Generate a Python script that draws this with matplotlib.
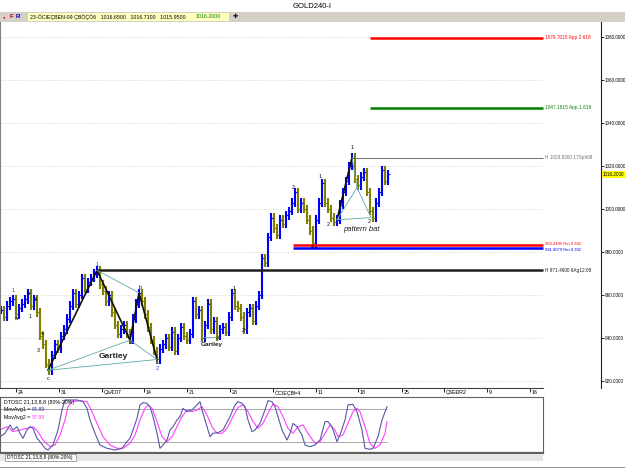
import matplotlib
matplotlib.use("Agg")
import matplotlib.pyplot as plt
from matplotlib.patches import Rectangle
import numpy as np

plt.rcParams['font.family'] = ['Liberation Sans', 'DejaVu Sans']

W, H = 625, 469

# 4h closes, one sample every 3 time units starting at t=1
close = [953, 950, 955, 957, 958, 951, 954, 956, 958, 961,
         955, 958, 952, 941, 937, 928, 925, 932, 937, 935,
         941, 944, 949, 955, 961, 956, 960, 968, 963, 966,
         968, 970, 971.5, 965, 962, 957, 960, 952, 946, 942,
         944, 946, 942, 939, 949, 956, 961, 957, 951, 945,
         939, 934, 930, 935, 937, 940, 936, 943, 934, 940,
         945, 941, 939, 942, 957, 951, 953, 940, 946, 956,
         944, 948, 941, 944, 945, 943, 950, 961, 955, 954,
         950, 944, 952, 954, 948, 955, 960, 977, 975, 987,
         996, 991, 988, 995, 993, 997, 999, 1003, 1008, 1000,
         1003, 1000, 995, 990, 984, 995, 1003, 1012, 1003, 1000,
         996, 994, 995, 1002, 1008, 1013, 1020, 1023.9, 1014, 1011,
         1015, 1017, 1008, 999, 996, 1003, 1008, 1018, 1013, 1016.2]

# DTOSC lines (time, value)
osc1_t = [0, 5, 10, 13, 17, 20, 23, 27, 30, 33, 37, 40, 45, 48, 53, 58, 62, 65, 70, 77,
          83, 87, 90, 95, 100, 107, 115, 122, 127, 130, 133, 137, 140, 143, 147, 150, 153, 157, 160, 163,
          167, 170, 173, 177, 180, 183, 187, 192, 197, 200, 203, 207, 210, 213, 218, 223, 230, 235, 238, 242,
          245, 248, 252, 255, 260, 265, 268, 272, 275, 278, 282, 287, 290, 293, 297, 302, 305, 310, 315, 320,
          325, 328, 332, 337, 340, 345, 348, 353, 357, 362, 365, 370, 373, 378, 382, 387]
osc1_v = [29.7, 35.8, 50.9, 41.8, 47.9, 35.8, 26.7, 41.8, 47.9, 44.8, 26.7, 20.6, 8.5, 5.5, 14.5, 41.8, 78.2, 96.4, 96.4, 96.4,
          93.3, 81.2, 60.0, 35.8, 14.5, 8.5, 5.5, 8.5, 20.6, 26.7, 41.8, 63.0, 87.3, 91.5, 90.3, 84.2, 66.1, 35.8, 8.5, 14.5,
          23.6, 41.8, 47.9, 60.0, 66.1, 81.2, 75.2, 78.2, 87.3, 93.3, 72.1, 47.9, 29.7, 35.8, 37.0, 41.8, 66.1, 87.3, 93.3, 90.3,
          84.2, 60.0, 38.8, 41.8, 53.9, 78.2, 95.2, 93.3, 84.2, 66.1, 41.8, 23.6, 35.8, 53.9, 47.9, 32.7, 14.5, 11.5, 14.5, 23.6,
          57.0, 57.0, 47.9, 20.6, 32.7, 60.0, 87.3, 88.5, 75.2, 41.8, 8.5, 6.7, 8.5, 29.7, 60.0, 84.2]
osc2_t = [0, 7, 13, 20, 27, 33, 38, 43, 50, 55, 60, 65, 68, 72, 80, 87, 92, 97, 103, 110,
          117, 123, 130, 135, 140, 145, 148, 152, 157, 162, 167, 172, 177, 182, 187, 192, 197, 202, 207, 212,
          217, 222, 227, 233, 238, 243, 248, 253, 258, 263, 268, 273, 278, 283, 288, 293, 298, 303, 308, 315,
          320, 325, 330, 335, 338, 343, 348, 353, 357, 360, 365, 370, 375, 380, 385, 387]
osc2_v = [41.8, 47.9, 38.8, 41.8, 44.8, 47.9, 38.8, 23.6, 11.5, 14.5, 32.7, 60.0, 84.2, 93.3, 95.2, 93.3, 75.2, 53.9, 29.7, 14.5,
          8.5, 8.5, 17.6, 32.7, 60.0, 81.2, 87.3, 81.2, 57.0, 29.7, 20.6, 29.7, 47.9, 66.1, 78.2, 75.2, 78.2, 84.2, 69.1, 47.9,
          35.8, 35.8, 44.8, 66.1, 83.0, 87.3, 75.2, 57.0, 44.8, 53.9, 72.1, 89.1, 84.2, 66.1, 44.8, 35.8, 47.9, 50.9, 35.8, 17.6,
          20.6, 35.8, 50.9, 41.8, 29.7, 32.7, 53.9, 75.2, 81.2, 75.2, 47.9, 17.6, 8.5, 14.5, 35.8, 57.0]

price_ticks = [920, 940, 960, 980, 1000, 1020, 1040, 1060, 1080]
last_price = 1016.2

date_ticks = [16, 59, 102, 144, 187, 230, 273, 316, 358, 402, 444, 487, 530]
date_labels = ['24', '31', 'ÇàÆ07', '14', '21', '28', 'ÖCIEÇBÞ4', '11', '18', '25', 'ÇßEÐR2', '9', '16']

# horizontal levels: price, start time, label, colour, width
lvl_price = [1079.7015, 1047.1815, 1023.92, 983.2495, 981.8079, 971.46]
lvl_start = [370, 370, 352, 293, 293, 97]
lvl_text = ['1079.7015 App 2.618', '1047.1815 App 1.618', 'H 1023.9200 17Sph08',
            '983.2495 Ret 0.382', '981.8079 Ret 0.382', 'H 971.4600 6Ag12:08']
lvl_color = ['#ff0000', '#008000', '#707070', '#ff0000', '#0000ff', '#202020']
lvl_lw = [1.8, 1.8, 0.7, 1.8, 1.8, 1.8]

# wave labels (time, price, text, colour)
wave_t = [13, 16, 28, 35, 30, 42, 38, 48, 48, 97, 140, 130, 157, 157, 208, 217, 234, 243, 293, 320, 328, 312, 352, 369]
wave_p = [962, 949.3, 960.5, 958, 949.8, 942.3, 934.4, 925.8, 921.3, 974.4, 963.7, 937.7, 928.4, 925.6, 956.3, 939.5,
          962.8, 943.3, 1010.2, 1014.9, 992.6, 981.9, 1028.8, 994.4]
wave_s = ['1', 'a', 'b', '3', '1', '4', '3', '2', 'c', '1', 'b', 'a', 'c', '2', '1', '2', '1', '2', '2', '1', '2', '4', '1', '2']
wave_c = ['#008000', 'k', 'k', 'k', 'k', 'k', 'k', '#008000', 'k', '#3030ff', 'k', 'k', '#3030ff', '#3030ff',
          'k', 'k', 'k', 'k', 'k', 'k', 'k', 'k', 'k', 'k']

# gartley X A B C D and bat points
g_t = [48, 97, 130, 139, 157]
g_p = [925, 971.5, 939, 961, 930]
bat_t = [337, 352, 357, 371]
bat_p = [995, 1023.9, 1010, 996]


def fr(x0, y0, x1, y1):
    return [x0 / W, 1 - y1 / H, (x1 - x0) / W, (y1 - y0) / H]


def prect(fig, x0, y0, x1, y1, fc, ec='none', lw=0):
    fig.add_artist(Rectangle((x0 / W, 1 - y1 / H), (x1 - x0) / W, (y1 - y0) / H,
                             transform=fig.transFigure, fc=fc, ec=ec, lw=lw))


fig = plt.figure(figsize=(W / 100, H / 100), dpi=100)
fig.patch.set_facecolor('white')

fig.text(312 / W, 1 - 6 / H, 'GOLD240-I', ha='center', va='center', fontsize=5.5)

# toolbar
prect(fig, 0, 12, 625, 22, '#d4d0c8')
prect(fig, 28, 13, 229, 21, '#ffffc0')
fig.text(3 / W, 1 - 17 / H, '\u25cf', color='red', fontsize=3, va='center')
fig.text(10 / W, 1 - 17 / H, 'F', color='#c00000', fontsize=4.5, va='center', weight='bold')
fig.text(16 / W, 1 - 17 / H, 'R', color='#0000c0', fontsize=4.5, va='center', weight='bold')
fig.text(30 / W, 1 - 17 / H, '23-ÖCIEÇBEN-09 ÇBÖÇÖ6   1016.6500   1016.7100   1015.9500',
         fontsize=3.8, va='center')
fig.text(196 / W, 1 - 17 / H, '1016.2000', color='#008000', fontsize=3.8, va='center')
fig.text(233 / W, 1 - 17 / H, '\u271a', fontsize=4.5, va='center')

# main price panel
ax = fig.add_axes(fr(0, 22, 601, 388))
ax.set_xlim(0, 601)
ax.set_ylim(916.74, 1087.0)
ax.set_facecolor('white')
for s in ['top', 'bottom']:
    ax.spines[s].set_visible(False)
ax.spines['left'].set_color('#808080')
ax.spines['right'].set_color('#202020')
ax.spines['right'].set_linewidth(0.8)
ax.set_xticks([])
ax.yaxis.tick_right()
ax.set_yticks(price_ticks)
ax.set_yticklabels(['%.4f' % p for p in price_ticks])
ax.tick_params(axis='y', labelsize=3.3, length=2, pad=0.6, width=0.6)

ax.hlines(price_ticks, 0, 542, colors='#c8c8b0', linestyles=(0, (1, 2)), lw=0.6)

t = np.arange(len(close)) * 3 + 1
c = np.array(close)
o = np.r_[c[0], c[:-1]]
lo = np.minimum(o, c) - 2.0
hi = np.maximum(o, c) + 2.0
cols = np.where(c >= o, '#0000ff', '#808000')
ax.vlines(t, lo, hi, colors=cols, lw=1.5)
ax.hlines(c, t, t + 1.5, colors=cols, lw=0.8)
ax.hlines(o, t - 1.5, t, colors=cols, lw=0.8)

# label nudges so the two close retracement labels stay legible
lbl_dy = [0, 0, 0, 0.7, -0.7, 0]
for p, s0, txt, col, lw, dy in zip(lvl_price, lvl_start, lvl_text, lvl_color, lvl_lw, lbl_dy):
    ax.hlines(p, s0, 543, colors=col, lw=lw)
    fs = 3.0 if dy else 3.4
    ax.text(545, p + dy, txt, color=col, fontsize=fs, va='center', ha='left')

# gartley
ax.plot(g_t, g_p, color='#101010', lw=1.2)
tl = '#60a8a8'
ax.plot([g_t[0], g_t[2], g_t[4], g_t[0]], [g_p[0], g_p[2], g_p[4], g_p[0]], color=tl, lw=0.6)
ax.plot([g_t[1], g_t[3]], [g_p[1], g_p[3]], color=tl, lw=0.6)
ax.text(113, 931.5, 'Gartley', fontsize=6, weight='bold', ha='center', va='center', color='#202020')
ax.plot([202, 217], [940.5, 940.5], color=tl, lw=0.6)
ax.text(212, 937.2, 'Gartley', fontsize=4.6, weight='bold', ha='center', va='center', color='#202020')

# bat
ax.plot(bat_t[:2], bat_p[:2], color='#101010', lw=1.2)
ax.plot([bat_t[0], bat_t[2], bat_t[3], bat_t[0]], [bat_p[0], bat_p[2], bat_p[3], bat_p[0]], color=tl, lw=0.6)
ax.plot([bat_t[1], bat_t[2]], [bat_p[1], bat_p[2]], color=tl, lw=0.6)
ax.text(361, 990.5, 'pattern bat', fontsize=5.5, style='italic', ha='center', va='center', color='#202020')

for wt, wp, ws, wc in zip(wave_t, wave_p, wave_s, wave_c):
    ax.text(wt, wp, ws, color=wc, fontsize=3.8, ha='center', va='center')

ax.annotate('%.4f' % last_price, xy=(1.003, last_price), xycoords=('axes fraction', 'data'),
            fontsize=3.3, va='center', ha='left', annotation_clip=False,
            bbox=dict(boxstyle='square,pad=0.2', fc='#ffff00', ec='none'))

# date strip
axd = fig.add_axes(fr(0, 388, 543, 397))
axd.set_xlim(0, 543)
axd.set_ylim(0, 1)
for s in ['bottom', 'left', 'right']:
    axd.spines[s].set_visible(False)
axd.spines['top'].set_color('#404040')
axd.spines['top'].set_linewidth(0.8)
axd.set_yticks([])
axd.set_xticks(date_ticks)
axd.tick_params(axis='x', top=True, bottom=False, direction='in', length=3, width=0.6,
                labeltop=False, labelbottom=False)
for x, lab in zip(date_ticks, date_labels):
    axd.text(x + 1.5, 0.45, lab, fontsize=3.8, va='center', ha='left')

# oscillator panel
axo = fig.add_axes(fr(0, 397, 543, 453))
axo.set_xlim(0, 543)
axo.set_ylim(0, 101.8)
axo.set_xticks([])
axo.set_yticks([])
for s in axo.spines.values():
    s.set_color('#606060')
    s.set_linewidth(0.8)
axo.spines['bottom'].set_linewidth(1.6)
axo.hlines([80, 20], 0, 387, colors='#a8a8a8', lw=0.7)
axo.plot(osc2_t, osc2_v, color='#ff40ff', lw=0.8)
axo.plot(osc1_t, osc1_v, color='#5858a8', lw=0.8)
axo.text(0.008, 0.9, 'DTOSC 21,13,8,8 (80%-20%)', transform=axo.transAxes, fontsize=3.8, va='center')
axo.text(0.008, 0.77, 'MovAvg1 =', transform=axo.transAxes, fontsize=3.8, va='center')
axo.text(0.058, 0.77, '84.89', transform=axo.transAxes, fontsize=3.8, va='center', color='#3030a0')
axo.text(0.008, 0.64, 'MovAvg2 =', transform=axo.transAxes, fontsize=3.8, va='center')
axo.text(0.058, 0.64, '57.98', transform=axo.transAxes, fontsize=3.8, va='center', color='#ff40ff')

# bottom tab strip
prect(fig, 0, 454, 543, 461, '#e6e6e6')
prect(fig, 5, 454, 76, 461, 'white', ec='#808080', lw=0.5)
fig.text(7 / W, 1 - 457.5 / H, 'DTOSC 21,13,8,8 (80%-20%)', fontsize=3.6, va='center')
fig.add_artist(plt.Line2D([0, 1], [1 - 467 / H, 1 - 467 / H], transform=fig.transFigure,
                          color='#808080', lw=0.6))

fig.savefig('out.png', dpi=100)
